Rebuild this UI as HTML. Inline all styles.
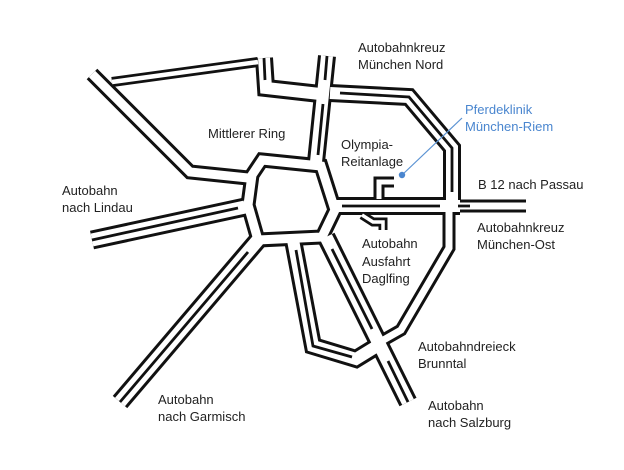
<!DOCTYPE html>
<html><head><meta charset="utf-8"><style>
html,body{margin:0;padding:0;background:#fff;}
svg{display:block}
text{font-family:"Liberation Sans",sans-serif;font-size:13px;fill:#222}
.b{fill:none;stroke:#111;stroke-linejoin:miter;stroke-linecap:butt}
.w{fill:none;stroke:#fff;stroke-linejoin:miter;stroke-linecap:butt}
.c{fill:none;stroke:#111;stroke-width:2.8;stroke-linejoin:miter}
</style></head><body>
<svg width="624" height="470" viewBox="0 0 624 470" xmlns="http://www.w3.org/2000/svg">
<defs>
<path id="ring" d="M262,160 L321,166 L335,210 L322,237 L258,240 L248,205 L252,175 Z"/>
<path id="r1" d="M92,74 L190,172 L248,178"/>
<path id="r2" d="M112,82 L258,62"/>
<path id="r3" d="M264,58 L266,88 L320,94"/>
<path id="r4" d="M327,56 L316,162"/>
<path id="r5" d="M330,93 L409,97 L452,148 L452,200"/>
<path id="r6" d="M336,206 L460,206"/>
<path id="r7" d="M460,206 L526,206"/>
<path id="r8" d="M449,206 L449,248 L401,330 L380,342"/>
<path id="r9" d="M92,240 L245,207"/>
<path id="r10" d="M120,402 L258,240"/>
<path id="r11" d="M293,240 L313,346 L356,359 L382,343"/>
<path id="r12" d="M326,237 L408,402"/>
<path id="r13" d="M362,215 L373,222 L383,222 L383,230"/>
<path id="r14" d="M379,199 L379,182 L394,182"/>
</defs>
<g class="b">
<use href="#ring" stroke-width="15"/>
<use href="#r1" stroke-width="15"/>
<use href="#r2" stroke-width="10"/>
<use href="#r3" stroke-width="18"/>
<use href="#r4" stroke-width="18"/>
<use href="#r5" stroke-width="18"/>
<use href="#r6" stroke-width="18"/>
<use href="#r7" stroke-width="13"/>
<use href="#r8" stroke-width="13"/>
<use href="#r9" stroke-width="19"/>
<use href="#r10" stroke-width="19"/>
<use href="#r11" stroke-width="18"/>
<use href="#r12" stroke-width="19"/>
<use href="#r13" stroke-width="9"/>
<use href="#r14" stroke-width="11"/>
</g>
<g class="w">
<use href="#ring" stroke-width="9"/>
<use href="#r1" stroke-width="9"/>
<use href="#r2" stroke-width="4.5"/>
<use href="#r3" stroke-width="12"/>
<use href="#r4" stroke-width="12"/>
<use href="#r5" stroke-width="12"/>
<use href="#r6" stroke-width="12"/>
<use href="#r7" stroke-width="7"/>
<use href="#r8" stroke-width="7"/>
<use href="#r9" stroke-width="13"/>
<use href="#r10" stroke-width="13"/>
<use href="#r11" stroke-width="12"/>
<use href="#r12" stroke-width="13"/>
<use href="#r13" stroke-width="3.5"/>
<use href="#r14" stroke-width="5"/>
</g>
<g class="c">
<path d="M264,58 L265,80"/>
<path d="M327,56 L325,80 M323,104 L318,155"/>
<path d="M340,93 L409,97 L452,148 L452,192"/>
<path d="M342,206 L440,206 M458,206 L470,206"/>
<path d="M92,240 L238,208"/>
<path d="M120,402 L248,252"/>
<path d="M296,250 L313,346 L352,357"/>
<path d="M332,249 L372,329 M388,361 L408,402"/>
</g>
<line x1="402" y1="175" x2="462" y2="118" stroke="#5b93d3" stroke-width="1.2"/>
<circle cx="402" cy="175" r="3.2" fill="#4a86cf"/>
<text x="465" y="114" style="fill:#4a86cf">Pferdeklinik</text>
<text x="465" y="131" style="fill:#4a86cf">München-Riem</text>
<text x="358" y="52">Autobahnkreuz</text>
<text x="358" y="69">München Nord</text>
<text x="208" y="138">Mittlerer Ring</text>
<text x="341" y="149">Olympia-</text>
<text x="341" y="166">Reitanlage</text>
<text x="478" y="189">B 12 nach Passau</text>
<text x="62" y="195">Autobahn</text>
<text x="62" y="212">nach Lindau</text>
<text x="477" y="232">Autobahnkreuz</text>
<text x="477" y="249">München-Ost</text>
<text x="362" y="248">Autobahn</text>
<text x="362" y="266">Ausfahrt</text>
<text x="362" y="283">Daglfing</text>
<text x="418" y="351">Autobahndreieck</text>
<text x="418" y="368">Brunntal</text>
<text x="158" y="404">Autobahn</text>
<text x="158" y="421">nach Garmisch</text>
<text x="428" y="410">Autobahn</text>
<text x="428" y="427">nach Salzburg</text>
</svg>
</body></html>
